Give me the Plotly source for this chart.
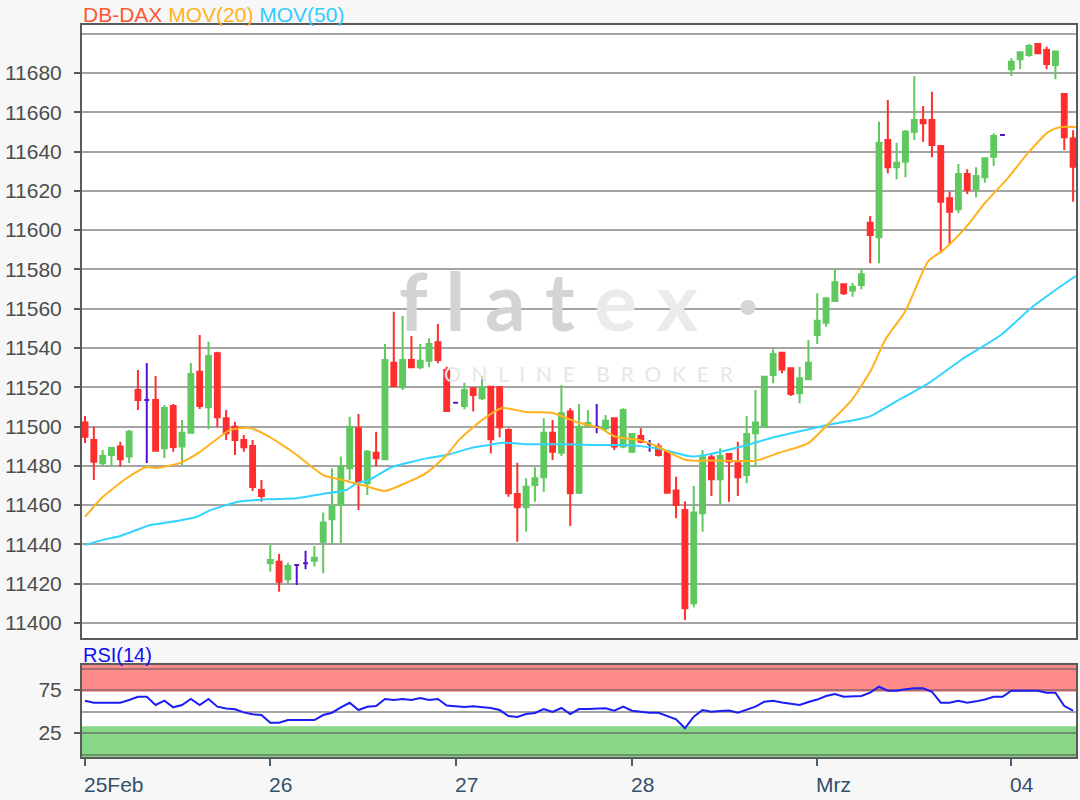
import plotly.graph_objects as go

# ---------------- data ----------------
day_labels = ["25Feb", "26", "27", "28", "Mrz", "04"]
day_start_idx = [0, 21, 42, 62, 83, 105]

opens = [11502.0, 11493.2, 11481.3, 11485.5, 11489.8, 11484.7, 11518.6, 11513.5, 11513.5, 11488.9,
         11510.5, 11489.8, 11496.9, 11527.9, 11509.8, 11537.3, 11504.2, 11499.9, 11493.2, 11490.1,
         11467.7, 11430.4, 11431.2, 11422.2, 11429.5, 11430.4, 11431.7, 11441.4, 11452.8, 11460.1,
         11478.8, 11499.1, 11471.1, 11486.7, 11483.3, 11532.5, 11520.0, 11533.9, 11530.2, 11533.5,
         11542.9, 11528.8, 11512.1, 11510.5, 11519.5, 11514.4, 11520.3, 11520.0, 11498.2, 11465.7,
         11458.9, 11470.3, 11474.2, 11496.9, 11486.7, 11507.6, 11466.3, 11500.3, 11499.9, 11499.1,
         11504.2, 11489.8, 11487.2, 11495.2, 11491.1, 11489.8, 11487.2, 11467.4, 11457.5, 11410.0,
         11455.8, 11484.4, 11473.2, 11486.0, 11481.3, 11475.3, 11496.6, 11499.9, 11526.3, 11537.6,
         11529.7, 11516.9, 11524.1, 11546.6, 11552.9, 11563.9, 11572.4, 11569.2, 11572.1, 11603.8,
         11596.4, 11645.9, 11632.0, 11634.8, 11650.1, 11656.1, 11656.1, 11642.8, 11616.2, 11610.6,
         11628.6, 11620.8, 11626.9, 11637.4, 11648.4, 11681.9, 11687.0, 11689.2, 11694.8, 11691.7,
         11684.1, 11669.3, 11646.7]
highs = [11505.4, 11499.9, 11488.1, 11489.1, 11492.3, 11498.2, 11528.8, 11532.4, 11525.7, 11511.0,
         11511.5, 11503.3, 11532.4, 11546.6, 11543.2, 11538.1, 11508.4, 11502.5, 11495.7, 11493.2,
         11472.8, 11439.7, 11435.1, 11430.7, 11429.5, 11436.8, 11439.2, 11456.2, 11478.8, 11484.7,
         11505.0, 11506.4, 11488.1, 11497.4, 11542.0, 11558.5, 11556.3, 11546.1, 11542.0, 11544.9,
         11552.2, 11530.5, 11512.1, 11522.3, 11520.0, 11525.7, 11520.7, 11520.7, 11499.1, 11481.6,
         11473.7, 11479.3, 11504.2, 11503.3, 11521.2, 11509.3, 11511.5, 11508.4, 11511.5, 11505.9,
         11504.7, 11509.3, 11496.6, 11499.1, 11493.2, 11491.5, 11488.1, 11474.5, 11462.0, 11469.7,
         11488.1, 11486.0, 11488.9, 11486.4, 11492.3, 11505.4, 11518.6, 11525.9, 11539.3, 11538.1,
         11529.7, 11530.5, 11544.1, 11567.8, 11565.4, 11580.2, 11572.4, 11573.2, 11580.6, 11607.2,
         11655.2, 11666.2, 11644.5, 11651.0, 11678.5, 11663.2, 11670.5, 11642.8, 11619.6, 11633.7,
         11631.0, 11632.0, 11636.6, 11649.3, 11648.4, 11687.5, 11690.5, 11694.8, 11695.1, 11693.4,
         11691.3, 11669.3, 11650.9]
lows = [11491.6, 11472.8, 11479.6, 11479.6, 11479.6, 11481.5, 11508.4, 11481.5, 11487.2, 11483.8,
        11487.2, 11480.4, 11496.7, 11508.9, 11498.6, 11499.6, 11493.2, 11485.5, 11487.2, 11467.2,
        11461.7, 11426.1, 11415.9, 11420.2, 11419.3, 11427.3, 11428.7, 11425.3, 11439.7, 11440.6,
        11472.8, 11457.5, 11465.2, 11479.6, 11483.3, 11520.3, 11518.6, 11529.7, 11529.2, 11530.2,
        11532.2, 11507.6, 11512.1, 11508.8, 11507.6, 11513.5, 11486.4, 11494.5, 11464.3, 11441.4,
        11446.5, 11461.7, 11466.8, 11483.0, 11485.0, 11449.4, 11465.7, 11499.3, 11496.6, 11497.4,
        11488.1, 11488.9, 11486.7, 11491.5, 11487.2, 11484.7, 11466.0, 11453.3, 11401.5, 11408.0,
        11446.5, 11464.7, 11460.1, 11461.7, 11464.7, 11471.1, 11479.6, 11499.9, 11522.0, 11527.1,
        11515.6, 11511.8, 11523.7, 11542.0, 11550.8, 11563.9, 11567.0, 11566.1, 11569.9, 11583.1,
        11583.1, 11628.9, 11625.9, 11626.9, 11645.9, 11645.0, 11637.1, 11588.2, 11592.4, 11608.6,
        11618.4, 11616.7, 11624.1, 11632.6, 11648.4, 11678.5, 11681.9, 11688.3, 11690.0, 11681.9,
        11676.8, 11640.8, 11614.5]
closes = [11494.8, 11482.1, 11485.0, 11489.1, 11483.3, 11497.4, 11513.5, 11513.5, 11487.7, 11509.4,
          11489.6, 11496.9, 11526.8, 11510.5, 11535.9, 11504.7, 11496.6, 11493.2, 11489.4, 11469.2,
          11464.7, 11432.1, 11421.0, 11429.0, 11429.5, 11430.4, 11433.2, 11451.1, 11459.6, 11479.6,
          11499.9, 11471.9, 11487.2, 11483.8, 11533.9, 11520.7, 11533.9, 11530.2, 11533.5, 11542.0,
          11533.9, 11507.9, 11512.1, 11518.6, 11516.1, 11520.0, 11493.5, 11499.6, 11466.0, 11458.9,
          11469.4, 11473.7, 11496.9, 11487.2, 11506.8, 11466.0, 11499.9, 11501.8, 11499.9, 11503.0,
          11489.8, 11508.4, 11496.2, 11492.3, 11491.1, 11485.5, 11466.3, 11460.1, 11407.5, 11456.2,
          11484.4, 11473.2, 11485.0, 11482.1, 11474.2, 11496.2, 11502.0, 11525.4, 11536.9, 11529.1,
          11516.6, 11524.6, 11532.5, 11553.9, 11565.3, 11573.4, 11567.8, 11571.2, 11577.5, 11597.5,
          11644.5, 11632.0, 11634.3, 11650.1, 11656.1, 11654.4, 11643.3, 11614.5, 11609.4, 11628.6,
          11620.4, 11627.6, 11636.6, 11647.9, 11648.4, 11685.7, 11690.5, 11693.7, 11690.0, 11684.6,
          11690.9, 11647.3, 11632.3]

ma20_idx = [0, 2, 4.75, 7, 8.1, 10.7, 13, 14.5, 16.4, 18.7, 20.9, 24, 27, 29.2, 32.2, 34, 36.4,
            38.7, 41, 42.4, 45, 47.3, 50, 53, 55.7, 58.3, 60.2, 62.8, 65, 68.1, 71.8, 76, 78.6,
            82, 83.9, 86.9, 89.1, 90.7, 93, 95.6, 97.3, 99.8, 102, 104.6, 106.9, 109.2, 110.6, 112.3]
ma20_val = [11454.0, 11464.1, 11473.8, 11479.4, 11478.9, 11481.4, 11487.0, 11492.1, 11498.2,
            11499.3, 11494.7, 11485.5, 11475.3, 11472.8, 11469.2, 11467.2, 11471.3, 11476.4,
            11485.5, 11493.2, 11503.3, 11509.4, 11507.4, 11506.9, 11502.3, 11499.3, 11494.7,
            11493.2, 11489.6, 11483.0, 11482.7, 11482.6, 11486.5, 11491.6, 11499.8, 11513.5,
            11528.8, 11544.1, 11558.8, 11584.3, 11589.9, 11601.1, 11613.8, 11626.5, 11639.3,
            11650.0, 11652.5, 11652.5]

ma50_idx = [0, 2, 4, 7.4, 9.3, 12.7, 14.1, 17.5, 20.9, 24, 26.9, 29.6, 30.8, 32.2, 34.8, 37.1,
            38.7, 41, 43.6, 45.8, 47.3, 50, 53.7, 57.5, 61.3, 65, 68.8, 70.9, 74.4, 78.3, 82.2,
            84.6, 87.7, 89.1, 91.9, 95.6, 99.3, 103.8, 107.2, 110, 112.3]
ma50_val = [11439.7, 11442.3, 11444.3, 11449.9, 11451.1, 11454.1, 11457.2, 11461.8, 11463.0,
            11463.5, 11465.7, 11467.7, 11471.1, 11472.8, 11479.4, 11482.1, 11483.8, 11485.5,
            11488.9, 11490.6, 11491.8, 11491.0, 11491.0, 11490.6, 11490.6, 11488.8, 11484.7,
            11486.0, 11489.8, 11494.8, 11498.8, 11501.2, 11503.7, 11505.4, 11512.7, 11522.0,
            11533.9, 11546.6, 11560.2, 11569.5, 11576.6]

rsi = [62.6, 60.2, 60.2, 60.2, 60.2, 63.4, 67.2, 67.2, 57.6, 62.6,
       54.9, 57.6, 64.5, 57.6, 64.5, 55.6, 53.5, 52.6, 49.0, 46.7,
       45.9, 37.0, 37.0, 40.1, 40.1, 40.1, 40.1, 45.9, 48.6, 54.9,
       60.2, 51.7, 55.6, 56.4, 64.5, 63.4, 64.5, 63.4, 65.7, 63.4,
       64.5, 57.0, 56.4, 55.2, 56.0, 55.2, 54.1, 51.7, 44.8, 43.6,
       47.1, 48.3, 52.9, 49.4, 54.1, 47.1, 52.9, 52.9, 52.9, 53.7,
       50.9, 55.6, 50.9, 49.5, 48.6, 48.6, 45.0, 40.9, 30.5, 44.0,
       51.7, 49.8, 50.5, 51.2, 48.6, 52.0, 55.6, 61.4, 62.6, 60.5,
       58.7, 57.6, 61.0, 63.9, 68.0, 70.3, 67.2, 67.5, 68.0, 71.9,
       78.8, 74.2, 74.2, 76.0, 77.0, 77.0, 73.0, 60.2, 60.2, 62.6,
       60.2, 61.8, 64.0, 67.2, 67.2, 74.2, 74.2, 74.2, 74.2, 71.9,
       71.9, 56.4, 50.9]

price_ticks = list(range(11400, 11681, 20))

# ---------------- styles ----------------
GREEN = "#5fc85f"
RED = "#ff2e2e"
PURPLE = "#5212d0"
FRAME = "#5a5a5a"
GRID = "#a4a4a4"
FONT = "Liberation Sans, Arial, sans-serif"

idx = list(range(len(opens)))
reg = [i for i in idx if opens[i] != closes[i]]
doj = [i for i in idx if opens[i] == closes[i]]

fig = go.Figure()

fig.add_trace(go.Candlestick(
    x=reg,
    open=[opens[i] for i in reg], high=[highs[i] for i in reg],
    low=[lows[i] for i in reg], close=[closes[i] for i in reg],
    increasing=dict(line=dict(color=GREEN, width=2), fillcolor=GREEN),
    decreasing=dict(line=dict(color=RED, width=2), fillcolor=RED),
    whiskerwidth=0, showlegend=False, hoverinfo="skip",
    xaxis="x", yaxis="y"))

fig.add_trace(go.Candlestick(
    x=doj,
    open=[opens[i] for i in doj], high=[highs[i] for i in doj],
    low=[lows[i] for i in doj], close=[closes[i] for i in doj],
    increasing=dict(line=dict(color=PURPLE, width=2), fillcolor=PURPLE),
    decreasing=dict(line=dict(color=PURPLE, width=2), fillcolor=PURPLE),
    whiskerwidth=0, showlegend=False, hoverinfo="skip",
    xaxis="x", yaxis="y"))

fig.add_trace(go.Scatter(x=ma50_idx, y=ma50_val, mode="lines",
                         line=dict(color="#33d4ff", width=2, shape="spline", smoothing=0.6),
                         showlegend=False, hoverinfo="skip", xaxis="x", yaxis="y"))
fig.add_trace(go.Scatter(x=ma20_idx, y=ma20_val, mode="lines",
                         line=dict(color="#ffb21e", width=2, shape="spline", smoothing=0.6),
                         showlegend=False, hoverinfo="skip", xaxis="x", yaxis="y"))

fig.add_trace(go.Scatter(x=idx, y=rsi, mode="lines",
                         line=dict(color="#1c1cf5", width=2),
                         showlegend=False, hoverinfo="skip", xaxis="x2", yaxis="y2"))

x_range = [-0.34, 112.33]

fig.update_layout(
    width=1080, height=800,
    margin=dict(l=82, r=2, t=25, b=43),
    paper_bgcolor="#f7f7f7", plot_bgcolor="white",
    boxgap=0.45, boxgroupgap=0,
    font=dict(family=FONT),
    xaxis=dict(domain=[0, 1], anchor="y", range=x_range, showgrid=False, zeroline=False,
               showticklabels=False, ticks="", rangeslider=dict(visible=False),
               showline=True, mirror=True, linecolor=FRAME, linewidth=2),
    yaxis=dict(domain=[0.1626, 1], anchor="x", range=[11392.36, 11704.43],
               tickvals=price_ticks, tickformat="d", ticks="outside", ticklen=6, tickwidth=2,
               tickcolor=FRAME, tickfont=dict(size=21, color="#4d4d4d"), ticklabelstandoff=8,
               showgrid=True, gridcolor=GRID, gridwidth=2, zeroline=False,
               minor=dict(tickvals=[11700], showgrid=True, gridcolor=GRID, gridwidth=2, ticks=""),
               showline=True, mirror=True, linecolor=FRAME, linewidth=2),
    xaxis2=dict(domain=[0, 1], anchor="y2", range=x_range, matches="x",
                tickvals=day_start_idx, ticktext=[""] * len(day_start_idx),
                ticks="outside", ticklen=7, tickwidth=2, tickcolor="#4a5e70",
                showgrid=False, zeroline=False,
                showline=True, mirror=True, linecolor=FRAME, linewidth=2),
    yaxis2=dict(domain=[0, 0.1257], anchor="x2", range=[-2.9, 104.1],
                tickvals=[25, 75], ticks="outside", ticklen=6, tickwidth=2, tickcolor=FRAME,
                tickfont=dict(size=21, color="#4d4d4d"), ticklabelstandoff=8,
                showgrid=True, gridcolor="rgba(90,90,90,0.55)", gridwidth=2, zeroline=False,
                minor=dict(tickvals=[0, 50, 100], showgrid=True,
                           gridcolor="rgba(90,90,90,0.55)", gridwidth=2, ticks=""),
                showline=True, mirror=True, linecolor=FRAME, linewidth=2),
)

# RSI bands
fig.add_shape(type="rect", xref="x2 domain", yref="y2", x0=0, x1=1, y0=73, y1=104.1,
              fillcolor="#ff8a8a", line=dict(width=0), layer="below")
fig.add_shape(type="rect", xref="x2 domain", yref="y2", x0=0, x1=1, y0=-2.9, y1=33,
              fillcolor="#88d888", line=dict(width=0), layer="below")

# Watermark
fig.add_annotation(xref="paper", yref="paper", x=0.5, y=0.625, showarrow=False,
                   text="<span style='color:#d4d4d4'>f l a t</span> <span style='color:#ebebeb'>e x</span><span style='color:#d6d6d6'>  ·</span>",
                   font=dict(family="Lato, Noto Sans, sans-serif", size=80, weight="bold"))
fig.add_annotation(xref="paper", yref="paper", x=0.51, y=0.524, showarrow=False,
                   text="O  N  L  I  N  E    B  R  O  K  E  R",
                   font=dict(family="Lato, Noto Sans, sans-serif", size=21, color="#e6e6e6"))

# Title texts
fig.add_annotation(xref="paper", yref="paper", x=0, y=1.0137, xanchor="left", yanchor="middle",
                   showarrow=False, xshift=-1,
                   text="<span style='color:#ff5733'>DB-DAX</span> <span style='color:#ffb21e'>MOV(20)</span> <span style='color:#33ccff'>MOV(50)</span>",
                   font=dict(size=21, family=FONT))
fig.add_annotation(xref="paper", yref="paper", x=0, y=0.1393, xanchor="left", yanchor="middle",
                   showarrow=False, xshift=-1, text="RSI(14)",
                   font=dict(size=20, family=FONT, color="#1010ee"))

# Day labels (left aligned at the tick)
for lab, di in zip(day_labels, day_start_idx):
    fig.add_annotation(xref="x2", yref="paper", x=di, y=-0.0369, xanchor="left", yanchor="middle",
                       showarrow=False, text=lab, xshift=-3,
                       font=dict(size=21, family=FONT, color="#34506a"))

fig.write_html("out.html", config={"displayModeBar": False},
               post_script="document.body.style.margin='0px';")
